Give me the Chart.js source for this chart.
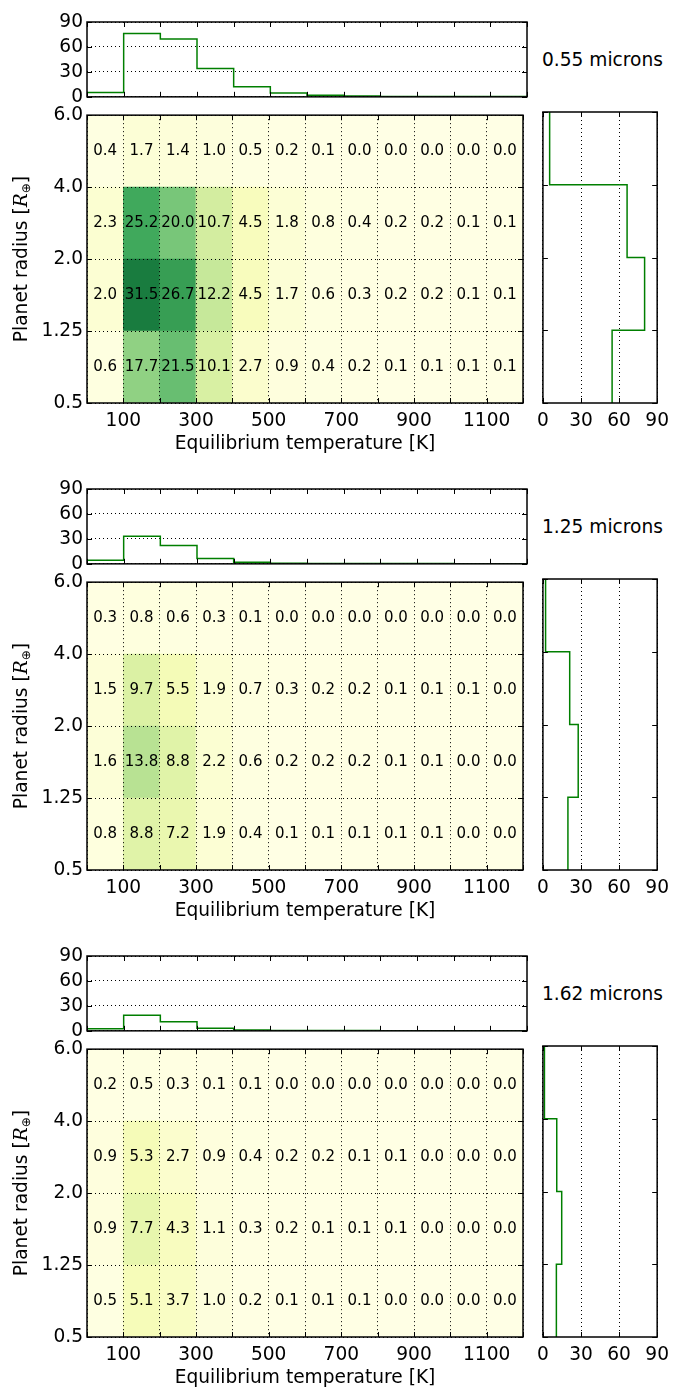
<!DOCTYPE html>
<html>
<head>
<meta charset="utf-8">
<script src="https://cdn.jsdelivr.net/npm/chart.js@4.4.1/dist/chart.umd.min.js"></script>
<style>
  html, body { margin: 0; padding: 0; background: #fff; }
  body { width: 676px; height: 1390px; position: relative; overflow: hidden; font-family: 'DejaVu Sans', sans-serif; }
  canvas { position: absolute; }
  .band { position: absolute; font-size: 18.6px; line-height: 20px; color: #000; white-space: nowrap; }
</style>
</head>
<body>
<script>
// temperature bin edges [K] and radius bin edges [R_earth]
let tempEdges = [0, 100, 200, 300, 400, 500, 600, 700, 800, 900, 1000, 1100, 1200];
let radiusLabels = ['0.5', '1.25', '2.0', '4.0', '6.0'];
let bands = ['0.55 microns', '1.25 microns', '1.62 microns'];

// expected yields per cell, rows from the smallest radius bin upwards
let yields055 = [
    [0.6, 17.7, 21.5, 10.1, 2.7, 0.9, 0.4, 0.2, 0.1, 0.1, 0.1, 0.1],
    [2.0, 31.5, 26.7, 12.2, 4.5, 1.7, 0.6, 0.3, 0.2, 0.2, 0.1, 0.1],
    [2.3, 25.2, 20.0, 10.7, 4.5, 1.8, 0.8, 0.4, 0.2, 0.2, 0.1, 0.1],
    [0.4, 1.7, 1.4, 1.0, 0.5, 0.2, 0.1, 0.0, 0.0, 0.0, 0.0, 0.0]
];
let yields125 = [
    [0.8, 8.8, 7.2, 1.9, 0.4, 0.1, 0.1, 0.1, 0.1, 0.1, 0.0, 0.0],
    [1.6, 13.8, 8.8, 2.2, 0.6, 0.2, 0.2, 0.2, 0.1, 0.1, 0.0, 0.0],
    [1.5, 9.7, 5.5, 1.9, 0.7, 0.3, 0.2, 0.2, 0.1, 0.1, 0.1, 0.0],
    [0.3, 0.8, 0.6, 0.3, 0.1, 0.0, 0.0, 0.0, 0.0, 0.0, 0.0, 0.0]
];
let yields162 = [
    [0.5, 5.1, 3.7, 1.0, 0.2, 0.1, 0.1, 0.1, 0.0, 0.0, 0.0, 0.0],
    [0.9, 7.7, 4.3, 1.1, 0.3, 0.2, 0.1, 0.1, 0.1, 0.0, 0.0, 0.0],
    [0.9, 5.3, 2.7, 0.9, 0.4, 0.2, 0.2, 0.1, 0.1, 0.0, 0.0, 0.0],
    [0.2, 0.5, 0.3, 0.1, 0.1, 0.0, 0.0, 0.0, 0.0, 0.0, 0.0, 0.0]
];

// marginal histograms (per temperature bin, per radius bin bottom-up)
let tempHist055 = [5.3, 76.1, 69.6, 34.0, 12.2, 4.6, 1.9, 0.9, 0.5, 0.5, 0.3, 0.3];
let tempHist125 = [4.2, 33.1, 22.1, 6.3, 1.8, 0.6, 0.5, 0.5, 0.3, 0.3, 0.1, 0.0];
let tempHist162 = [2.5, 18.6, 11.0, 3.1, 1.0, 0.5, 0.4, 0.3, 0.2, 0.0, 0.0, 0.0];
let radHist055 = [54.5, 80.1, 66.3, 5.3];
let radHist125 = [19.7, 27.8, 21.1, 2.1];
let radHist162 = [10.6, 14.8, 10.9, 1.2];

let yieldSets = [yields055, yields125, yields162];
let tempHists = [tempHist055, tempHist125, tempHist162];
let radHists = [radHist055, radHist125, radHist162];

Chart.defaults.font.family = "'DejaVu Sans', sans-serif";
Chart.defaults.font.size = 18.6;
Chart.defaults.color = '#000';

// YlGn colormap, 0..40
const ylgn = ['#ffffe5', '#f7fcb9', '#d9f0a3', '#addd8e', '#78c679', '#41ab5d', '#238443', '#006837', '#004529'];
function cellColor(v){
    let t = Math.max(0, Math.min(v / 40, 1)) * (ylgn.length - 1);
    let i = Math.min(Math.floor(t), ylgn.length - 2);
    let f = t - i;
    let a = ylgn[i], b = ylgn[i + 1];
    let c = [1, 3, 5].map(k => {
        let p = parseInt(a.substr(k, 2), 16), q = parseInt(b.substr(k, 2), 16);
        return Math.round(p + (q - p) * f);
    });
    return 'rgb(' + c.join(',') + ')';
}

function makeCanvas(left, top, w, h){
    let c = document.createElement('canvas');
    c.width = w; c.height = h;
    c.style.left = left + 'px'; c.style.top = top + 'px';
    c.style.width = w + 'px'; c.style.height = h + 'px';
    document.body.appendChild(c);
    return c;
}

// frame + inward tick marks on all four sides
const frameTicks = {
    id: 'frameTicks',
    afterDraw(chart){
        let {ctx, chartArea: a, scales} = chart;
        ctx.save();
        ctx.strokeStyle = '#000';
        ctx.lineWidth = 1;
        ctx.beginPath();
        scales.x.ticks.forEach(t => {
            let px = Math.round(scales.x.getPixelForValue(t.value)) + 0.5;
            ctx.moveTo(px, a.bottom); ctx.lineTo(px, a.bottom - 5);
            ctx.moveTo(px, a.top); ctx.lineTo(px, a.top + 5);
        });
        scales.y.ticks.forEach(t => {
            let py = Math.round(scales.y.getPixelForValue(t.value)) + 0.5;
            ctx.moveTo(a.left, py); ctx.lineTo(a.left + 5, py);
            ctx.moveTo(a.right, py); ctx.lineTo(a.right - 5, py);
        });
        ctx.stroke();
        ctx.lineWidth = 1.5;
        ctx.strokeRect(a.left, a.top, a.right - a.left, a.bottom - a.top);
        ctx.restore();
    }
};

const cellText = {
    id: 'cellText',
    afterDatasetsDraw(chart){
        let ctx = chart.ctx;
        let grid = chart.options.plugins.cellText.values;
        ctx.save();
        ctx.font = "15px 'DejaVu Sans'";
        ctx.fillStyle = '#000';
        ctx.textAlign = 'center';
        ctx.textBaseline = 'middle';
        grid.forEach((row, r) => {
            chart.getDatasetMeta(r).data.forEach((bar, j) => {
                ctx.fillText(row[j].toFixed(1), bar.x, (bar.y + bar.base) / 2);
            });
        });
        ctx.restore();
    }
};

const radiusTitle = {
    id: 'radiusTitle',
    afterDraw(chart){
        let {ctx, chartArea: a} = chart;
        let parts = [
            {t: 'Planet radius [', f: "18.6px 'DejaVu Sans'", dy: 0},
            {t: 'R', f: "italic 18.6px 'DejaVu Serif'", dy: 0},
            {t: '\u2295', f: "12px 'DejaVu Sans'", dy: 5},
            {t: ']', f: "18.6px 'DejaVu Sans'", dy: 0}
        ];
        ctx.save();
        let total = 0;
        parts.forEach(p => { ctx.font = p.f; p.w = ctx.measureText(p.t).width; total += p.w; });
        ctx.translate(22, (a.top + a.bottom) / 2);
        ctx.rotate(-Math.PI / 2);
        ctx.fillStyle = '#000';
        ctx.textBaseline = 'middle';
        let x = -total / 2;
        parts.forEach(p => { ctx.font = p.f; ctx.fillText(p.t, x, p.dy); x += p.w; });
        ctx.restore();
    }
};

const dotted = [1, 3];

function drawPanel(k, off){
    let yields = yieldSets[k];

    // top histogram over temperature
    new Chart(makeCanvas(0, off, 530, 112), {
        type: 'scatter',
        data: {
            datasets: [{
                data: tempEdges.map((t, j) => ({x: t, y: tempHists[k][Math.min(j, 11)]})),
                showLine: true,
                stepped: 'before',
                borderColor: '#007f00',
                borderWidth: 1.5,
                pointRadius: 0,
                fill: false
            }]
        },
        options: {
            responsive: false, animation: false, devicePixelRatio: 1,
            layout: {padding: {top: 22, right: 3, left: 0, bottom: 0}},
            plugins: {legend: {display: false}, tooltip: {enabled: false}},
            scales: {
                x: {
                    type: 'linear', min: 0, max: 1200,
                    ticks: {stepSize: 100, display: false, autoSkip: false},
                    grid: {display: false},
                    border: {display: false},
                    afterFit: s => { s.height = 12; }
                },
                y: {
                    type: 'linear', min: 0, max: 90,
                    ticks: {stepSize: 30, padding: 4},
                    grid: {color: '#000', lineWidth: 1, drawTicks: false},
                    border: {display: false, dash: dotted},
                    afterFit: s => { s.width = 87; }
                }
            }
        },
        plugins: [frameTicks]
    });

    // heat map
    new Chart(makeCanvas(0, off + 100, 530, 360), {
        type: 'bar',
        data: {
            datasets: yields.map((row, r) => ({
                data: row.map((v, j) => ({x: (tempEdges[j] + tempEdges[j + 1]) / 2, y: [r, r + 1]})),
                backgroundColor: row.map(cellColor),
                borderWidth: 0,
                barPercentage: 1,
                categoryPercentage: 1,
                grouped: false
            }))
        },
        options: {
            responsive: false, animation: false, devicePixelRatio: 1,
            layout: {padding: {top: 12, right: 3, left: 0, bottom: 0}},
            plugins: {legend: {display: false}, tooltip: {enabled: false}, cellText: {values: yields}},
            scales: {
                x: {
                    type: 'linear', min: 0, max: 1200, offset: false,
                    ticks: {
                        stepSize: 100, autoSkip: false, maxRotation: 0, minRotation: 0, padding: 7,
                        callback: v => (v / 100) % 2 === 1 ? String(v) : ''
                    },
                    grid: {color: '#000', lineWidth: 1, drawTicks: false, offset: false, z: 1},
                    border: {display: false, dash: dotted},
                    title: {display: true, text: 'Equilibrium temperature [K]', padding: {top: 0, bottom: 5}},
                    afterFit: s => { s.height = 57; }
                },
                y: {
                    type: 'linear', min: 0, max: 4,
                    ticks: {stepSize: 1, padding: 4, callback: v => radiusLabels[v]},
                    grid: {color: '#000', lineWidth: 1, drawTicks: false, z: 1},
                    border: {display: false, dash: dotted},
                    afterFit: s => { s.width = 87; }
                }
            }
        },
        plugins: [cellText, frameTicks, radiusTitle]
    });

    // right histogram over radius
    let rh = radHists[k];
    let pts = [];
    for(let r = rh.length - 1; r >= 0; r--){
        pts.push({x: rh[r], y: r + 1});
    }
    pts.push({x: rh[0], y: 0});
    new Chart(makeCanvas(530, off + 100, 146, 360), {
        type: 'scatter',
        data: {
            datasets: [{
                data: pts,
                showLine: true,
                stepped: 'after',
                borderColor: '#007f00',
                borderWidth: 1.5,
                pointRadius: 0,
                fill: false
            }]
        },
        options: {
            responsive: false, animation: false, devicePixelRatio: 1,
            layout: {padding: {top: 12, right: 15, left: 0, bottom: 0}},
            plugins: {legend: {display: false}, tooltip: {enabled: false}},
            scales: {
                x: {
                    type: 'linear', min: 0, max: 90,
                    ticks: {stepSize: 30, padding: 7, maxRotation: 0},
                    grid: {color: '#000', lineWidth: 1, drawTicks: false},
                    border: {display: false, dash: dotted},
                    afterFit: s => { s.height = 57; }
                },
                y: {
                    type: 'linear', min: 0, max: 4,
                    ticks: {stepSize: 1, display: false},
                    grid: {display: false},
                    border: {display: false},
                    afterFit: s => { s.width = 12; }
                }
            }
        },
        plugins: [frameTicks]
    });

    let lbl = document.createElement('div');
    lbl.className = 'band';
    lbl.textContent = bands[k];
    lbl.style.left = '542px';
    lbl.style.top = (off + 50) + 'px';
    document.body.appendChild(lbl);
}

[0, 467, 934].forEach((off, k) => drawPanel(k, off));
</script>
</body>
</html>
